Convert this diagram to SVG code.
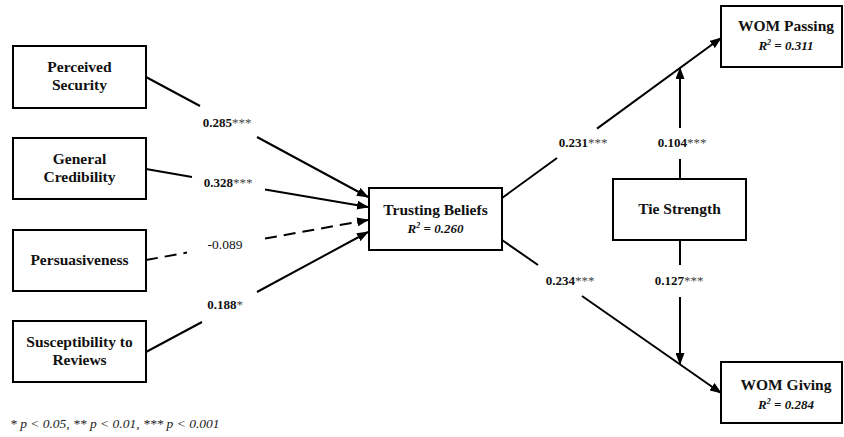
<svg xmlns="http://www.w3.org/2000/svg" width="844" height="437" viewBox="0 0 844 437">
<defs>
<marker id="ah" viewBox="0 0 12 9" refX="11" refY="4.5" markerWidth="12" markerHeight="9" markerUnits="userSpaceOnUse" orient="auto">
<path d="M0,0 L12,4.5 L0,9 Z" fill="#000"/>
</marker>
<style>
.box{fill:#fff;stroke:#000;stroke-width:2}
.nm{font-family:"Liberation Serif","Times New Roman",serif;font-weight:bold;font-size:15.5px;text-anchor:middle;fill:#111}
.r2{font-family:"Liberation Serif","Times New Roman",serif;font-weight:bold;font-style:italic;font-size:13px;text-anchor:middle;fill:#111}
.lbl{font-family:"Liberation Serif","Times New Roman",serif;font-weight:bold;font-size:13px;text-anchor:middle;fill:#111}
.st{font-weight:normal;fill:#444}
.ns{font-weight:normal;font-size:13.5px}
.ln{fill:none;stroke:#000;stroke-width:2}
.dash{stroke-dasharray:12,7}
.foot{font-family:"Liberation Serif","Times New Roman",serif;font-style:italic;font-size:13.5px;fill:#222}
</style>
</defs>
<g id="connectors">
<path class="ln" d="M146,77 L200,106 M257,137 L368,197" marker-end="url(#ah)"/>
<path class="ln" d="M146,169 L192,177 M265,189.5 L368,207" marker-end="url(#ah)"/>
<path class="ln dash" d="M146,260 L187,252.6 M265,238.6 L368,220" marker-end="url(#ah)"/>
<path class="ln" d="M146,352 L202,322 M257,292 L368,232" marker-end="url(#ah)"/>
<path class="ln" d="M502,198 L557,158 M597,128.6 L721,38" marker-end="url(#ah)"/>
<path class="ln" d="M502,240 L538,265 M582,296 L721,393" marker-end="url(#ah)"/>
<path class="ln" d="M680,179 L680,159 M680,128 L680,68" marker-end="url(#ah)"/>
<path class="ln" d="M680,240 L680,265 M680,297 L680,364" marker-end="url(#ah)"/>
<text class="lbl" x="227" y="127">0.285<tspan class="st">***</tspan></text>
<text class="lbl" x="228" y="187">0.328<tspan class="st">***</tspan></text>
<text class="lbl ns" x="225" y="249">-0.089</text>
<text class="lbl" x="225" y="309">0.188<tspan class="st">*</tspan></text>
<text class="lbl" x="583" y="147">0.231<tspan class="st">***</tspan></text>
<text class="lbl" x="682" y="147">0.104<tspan class="st">***</tspan></text>
<text class="lbl" x="570" y="285">0.234<tspan class="st">***</tspan></text>
<text class="lbl" x="679" y="285">0.127<tspan class="st">***</tspan></text>
</g>
<g id="perceived-security">
<rect class="box" x="13" y="46" width="133" height="62"/>
<text class="nm" x="79.5" y="72">Perceived</text>
<text class="nm" x="79.5" y="90">Security</text>
</g>
<g id="general-credibility">
<rect class="box" x="13" y="138" width="133" height="61"/>
<text class="nm" x="79.5" y="164">General</text>
<text class="nm" x="79.5" y="182">Credibility</text>
</g>
<g id="persuasiveness">
<rect class="box" x="13" y="230" width="133" height="61"/>
<text class="nm" x="79.5" y="265">Persuasiveness</text>
</g>
<g id="susceptibility">
<rect class="box" x="13" y="321" width="133" height="61"/>
<text class="nm" x="79.5" y="347">Susceptibility to</text>
<text class="nm" x="79.5" y="365">Reviews</text>
</g>
<g id="trusting-beliefs">
<rect class="box" x="369" y="188" width="133" height="62"/>
<text class="nm" x="435.5" y="215">Trusting Beliefs</text>
<text class="r2" x="435.5" y="233">R<tspan font-size="8" dy="-5">2</tspan><tspan dy="5"> = 0.260</tspan></text>
</g>
<g id="tie-strength">
<rect class="box" x="613" y="179" width="133" height="61"/>
<text class="nm" x="679.5" y="214">Tie Strength</text>
</g>
<g id="wom-passing">
<rect class="box" x="721" y="6" width="121" height="61"/>
<text class="nm" x="786" y="31">WOM Passing</text>
<text class="r2" x="786" y="50">R<tspan font-size="8" dy="-5">2</tspan><tspan dy="5"> = 0.311</tspan></text>
</g>
<g id="wom-giving">
<rect class="box" x="721" y="362" width="121" height="61"/>
<text class="nm" x="786" y="390">WOM Giving</text>
<text class="r2" x="786" y="409">R<tspan font-size="8" dy="-5">2</tspan><tspan dy="5"> = 0.284</tspan></text>
</g>
<text class="foot" x="10" y="428">* p &lt; 0.05, ** p &lt; 0.01, *** p &lt; 0.001</text>
</svg>
